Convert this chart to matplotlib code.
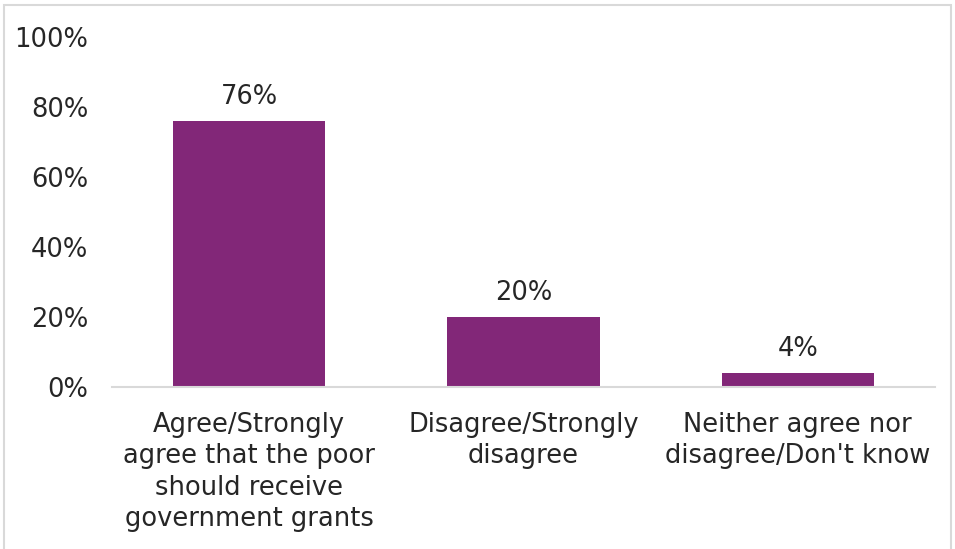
import matplotlib.pyplot as plt
from matplotlib.patches import Rectangle

categories = [
    "Agree/Strongly\nagree that the poor\nshould receive\ngovernment grants",
    "Disagree/Strongly\ndisagree",
    "Neither agree nor\ndisagree/Don't know",
]
values = [76, 20, 4]
yticks = [0, 20, 40, 60, 80, 100]

bar_color = "#822778"
text_color = "#262626"
fs = 18.5

plt.rcParams["font.family"] = ["DejaVu Sans"]

fig = plt.figure(figsize=(9.55, 5.49), dpi=100)
ax = fig.add_axes([0.1173, 0.295, 0.8617, 0.6375])

x = range(len(categories))
bars = ax.bar(x, values, width=0.555, color=bar_color)

for b, v in zip(bars, values):
    ax.annotate(f"{v}%", (b.get_x() + b.get_width() / 2, v),
                xytext=(0, 8), textcoords="offset points",
                ha="center", va="bottom", fontsize=fs, color=text_color)

ax.set_xlim(-0.5, len(categories) - 0.5)
ax.set_ylim(0, 100)
ax.set_yticks(yticks)
ax.set_yticklabels([f"{t}%" for t in yticks], fontsize=fs, color=text_color)
ax.set_xticks(list(x))
ax.set_xticklabels(categories, fontsize=fs, color=text_color, linespacing=1.27)
ax.tick_params(axis="both", length=0)
ax.tick_params(axis="y", pad=17)
ax.tick_params(axis="x", pad=18)

for s in ["top", "right", "left"]:
    ax.spines[s].set_visible(False)
ax.spines["bottom"].set_color("#D9D9D9")
ax.spines["bottom"].set_linewidth(1.5)

# chart area border
fig.patches.append(Rectangle((4 / 955, -0.01), 947 / 955, 1 - 5 / 549 + 0.01,
                             transform=fig.transFigure, fill=False,
                             edgecolor="#D9D9D9", linewidth=1.5))

fig.savefig("out.png", dpi=100)
